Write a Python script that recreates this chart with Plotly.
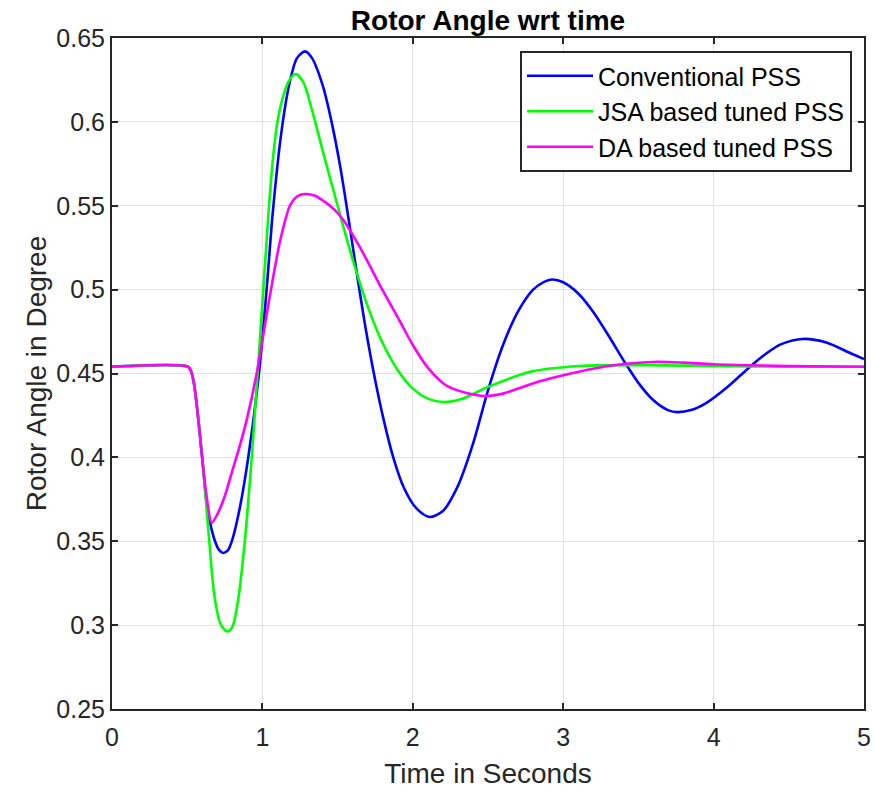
import plotly.graph_objects as go

# ---------------- data ----------------
t_conv = [0, 0.507, 0.525, 0.545, 0.565, 0.585, 0.607, 0.63, 0.66, 0.685, 0.71, 0.74, 0.77,
          0.8, 0.85, 0.906, 0.977, 1.028, 1.068, 1.125, 1.18, 1.23, 1.283, 1.33, 1.4,
          1.46, 1.52, 1.58, 1.636, 1.69, 1.75, 1.81, 1.87, 1.94, 2.02, 2.11, 2.2, 2.3,
          2.4, 2.5, 2.6, 2.7, 2.8, 2.87, 2.925, 3.0, 3.1, 3.2, 3.3, 3.41, 3.5, 3.6, 3.7, 3.76,
          3.85, 3.95, 4.1, 4.22, 4.35, 4.45, 4.594, 4.75, 4.9, 5.0]
v_conv = [0.454, 0.454, 0.4515, 0.444, 0.43, 0.413, 0.393, 0.372, 0.358, 0.35, 0.345, 0.343, 0.3445,
          0.351, 0.37, 0.40, 0.45, 0.50, 0.545, 0.593, 0.623, 0.638, 0.642, 0.638, 0.622,
          0.60, 0.572, 0.538, 0.505, 0.475, 0.446, 0.421, 0.40, 0.382, 0.37, 0.3645, 0.368, 0.383,
          0.408, 0.44, 0.467, 0.487, 0.5, 0.5045, 0.506, 0.5044, 0.4977, 0.4867, 0.4728, 0.4566, 0.4444, 0.434, 0.428, 0.427,
          0.4282, 0.4324, 0.4426, 0.4523, 0.4619, 0.4675, 0.4706, 0.4685, 0.4625, 0.4586]

t_jsa = [0, 0.507, 0.525, 0.545, 0.565, 0.585, 0.607, 0.63, 0.645, 0.68, 0.72, 0.765, 0.8,
         0.84, 0.884, 0.929, 0.968, 1.006, 1.044, 1.07, 1.1, 1.14, 1.18, 1.22, 1.27,
         1.33, 1.4, 1.5, 1.6, 1.7, 1.8, 1.9, 2.0, 2.1, 2.2, 2.33, 2.5, 2.78, 3.11,
         3.55, 4.0, 4.5, 5.0]
v_jsa = [0.454, 0.454, 0.4515, 0.444, 0.43, 0.413, 0.393, 0.368, 0.352, 0.318, 0.301, 0.2962, 0.299,
         0.316, 0.351, 0.40, 0.45, 0.50, 0.55, 0.578, 0.60, 0.616, 0.625, 0.6285, 0.624,
         0.607, 0.583, 0.55, 0.518, 0.49, 0.468, 0.452, 0.441, 0.435, 0.433, 0.435, 0.442, 0.451, 0.4545,
         0.455, 0.4545, 0.454, 0.454]

t_da = [0, 0.507, 0.525, 0.545, 0.565, 0.585, 0.607, 0.63, 0.663, 0.7, 0.75, 0.8, 0.85,
        0.9, 0.962, 1.0, 1.057, 1.12, 1.183, 1.23, 1.283, 1.35, 1.42, 1.48, 1.538,
        1.65, 1.8, 1.915, 2.0, 2.1, 2.22, 2.35, 2.48, 2.6, 2.7, 2.85, 3.0, 3.15, 3.3,
        3.6, 3.8, 4.0, 4.5, 5.0]
v_da = [0.454, 0.454, 0.4515, 0.444, 0.43, 0.413, 0.393, 0.376, 0.361, 0.366, 0.377, 0.392, 0.407,
        0.424, 0.45, 0.47, 0.50, 0.53, 0.55, 0.5555, 0.557, 0.556, 0.552, 0.5475, 0.5415,
        0.525, 0.4995, 0.481, 0.467, 0.4535, 0.443, 0.4385, 0.4366, 0.438, 0.441, 0.4455, 0.449, 0.452, 0.4545,
        0.4569, 0.4565, 0.4555, 0.4545, 0.454]

series_names = ["Conventional PSS", "JSA based tuned PSS", "DA based tuned PSS"]
series_colors = ["#0000FF", "#00FF00", "#FF00FF"]

x_ticks = [0, 1, 2, 3, 4, 5]
y_ticks = [0.25, 0.3, 0.35, 0.4, 0.45, 0.5, 0.55, 0.6, 0.65]
y_tick_text = ["0.25", "0.3", "0.35", "0.4", "0.45", "0.5", "0.55", "0.6", "0.65"]

FONT = "Arial, Liberation Sans, Helvetica, sans-serif"
DARK = "#262626"

fig = go.Figure()
for t, v, name, col in zip([t_conv, t_jsa, t_da], [v_conv, v_jsa, v_da], series_names, series_colors):
    fig.add_trace(go.Scatter(
        x=t, y=v, mode="lines", name=name,
        line=dict(color=col, width=2.6, shape="spline", smoothing=0.8),
    ))

axis_common = dict(
    showline=True, linecolor=DARK, linewidth=2, mirror="ticks",
    ticks="inside", ticklen=6, tickwidth=1.5, tickcolor=DARK,
    showgrid=True, gridcolor="#e0e0e0", gridwidth=1,
    zeroline=False, automargin=False,
    tickfont=dict(family=FONT, size=25, color=DARK),
)

fig.update_layout(
    width=874, height=791,
    margin=dict(l=112, r=10, t=38, b=82),
    paper_bgcolor="white", plot_bgcolor="white",
    title=dict(text="<b>Rotor Angle wrt time</b>", x=0.5, xref="paper",
               y=1 - 20 / 791, yref="container", yanchor="middle", xanchor="center",
               font=dict(family=FONT, size=28, color="black")),
    xaxis=dict(range=[0, 5], tickvals=x_ticks, ticklabelstandoff=5,
               title=dict(text="Time in Seconds", font=dict(family=FONT, size=28, color=DARK), standoff=13),
               **axis_common),
    yaxis=dict(range=[0.25, 0.65], tickvals=y_ticks, ticktext=y_tick_text,
               title=dict(text="Rotor Angle in Degree", font=dict(family=FONT, size=28, color=DARK), standoff=2),
               **axis_common),
    legend=dict(x=(852 - 112) / 752, y=1 - 13 / 671, xanchor="right", yanchor="top",
                bgcolor="white", bordercolor=DARK, borderwidth=2,
                font=dict(family=FONT, size=25, color="black"),
                itemwidth=66),
    showlegend=True,
)

fig.write_html("out.html")
